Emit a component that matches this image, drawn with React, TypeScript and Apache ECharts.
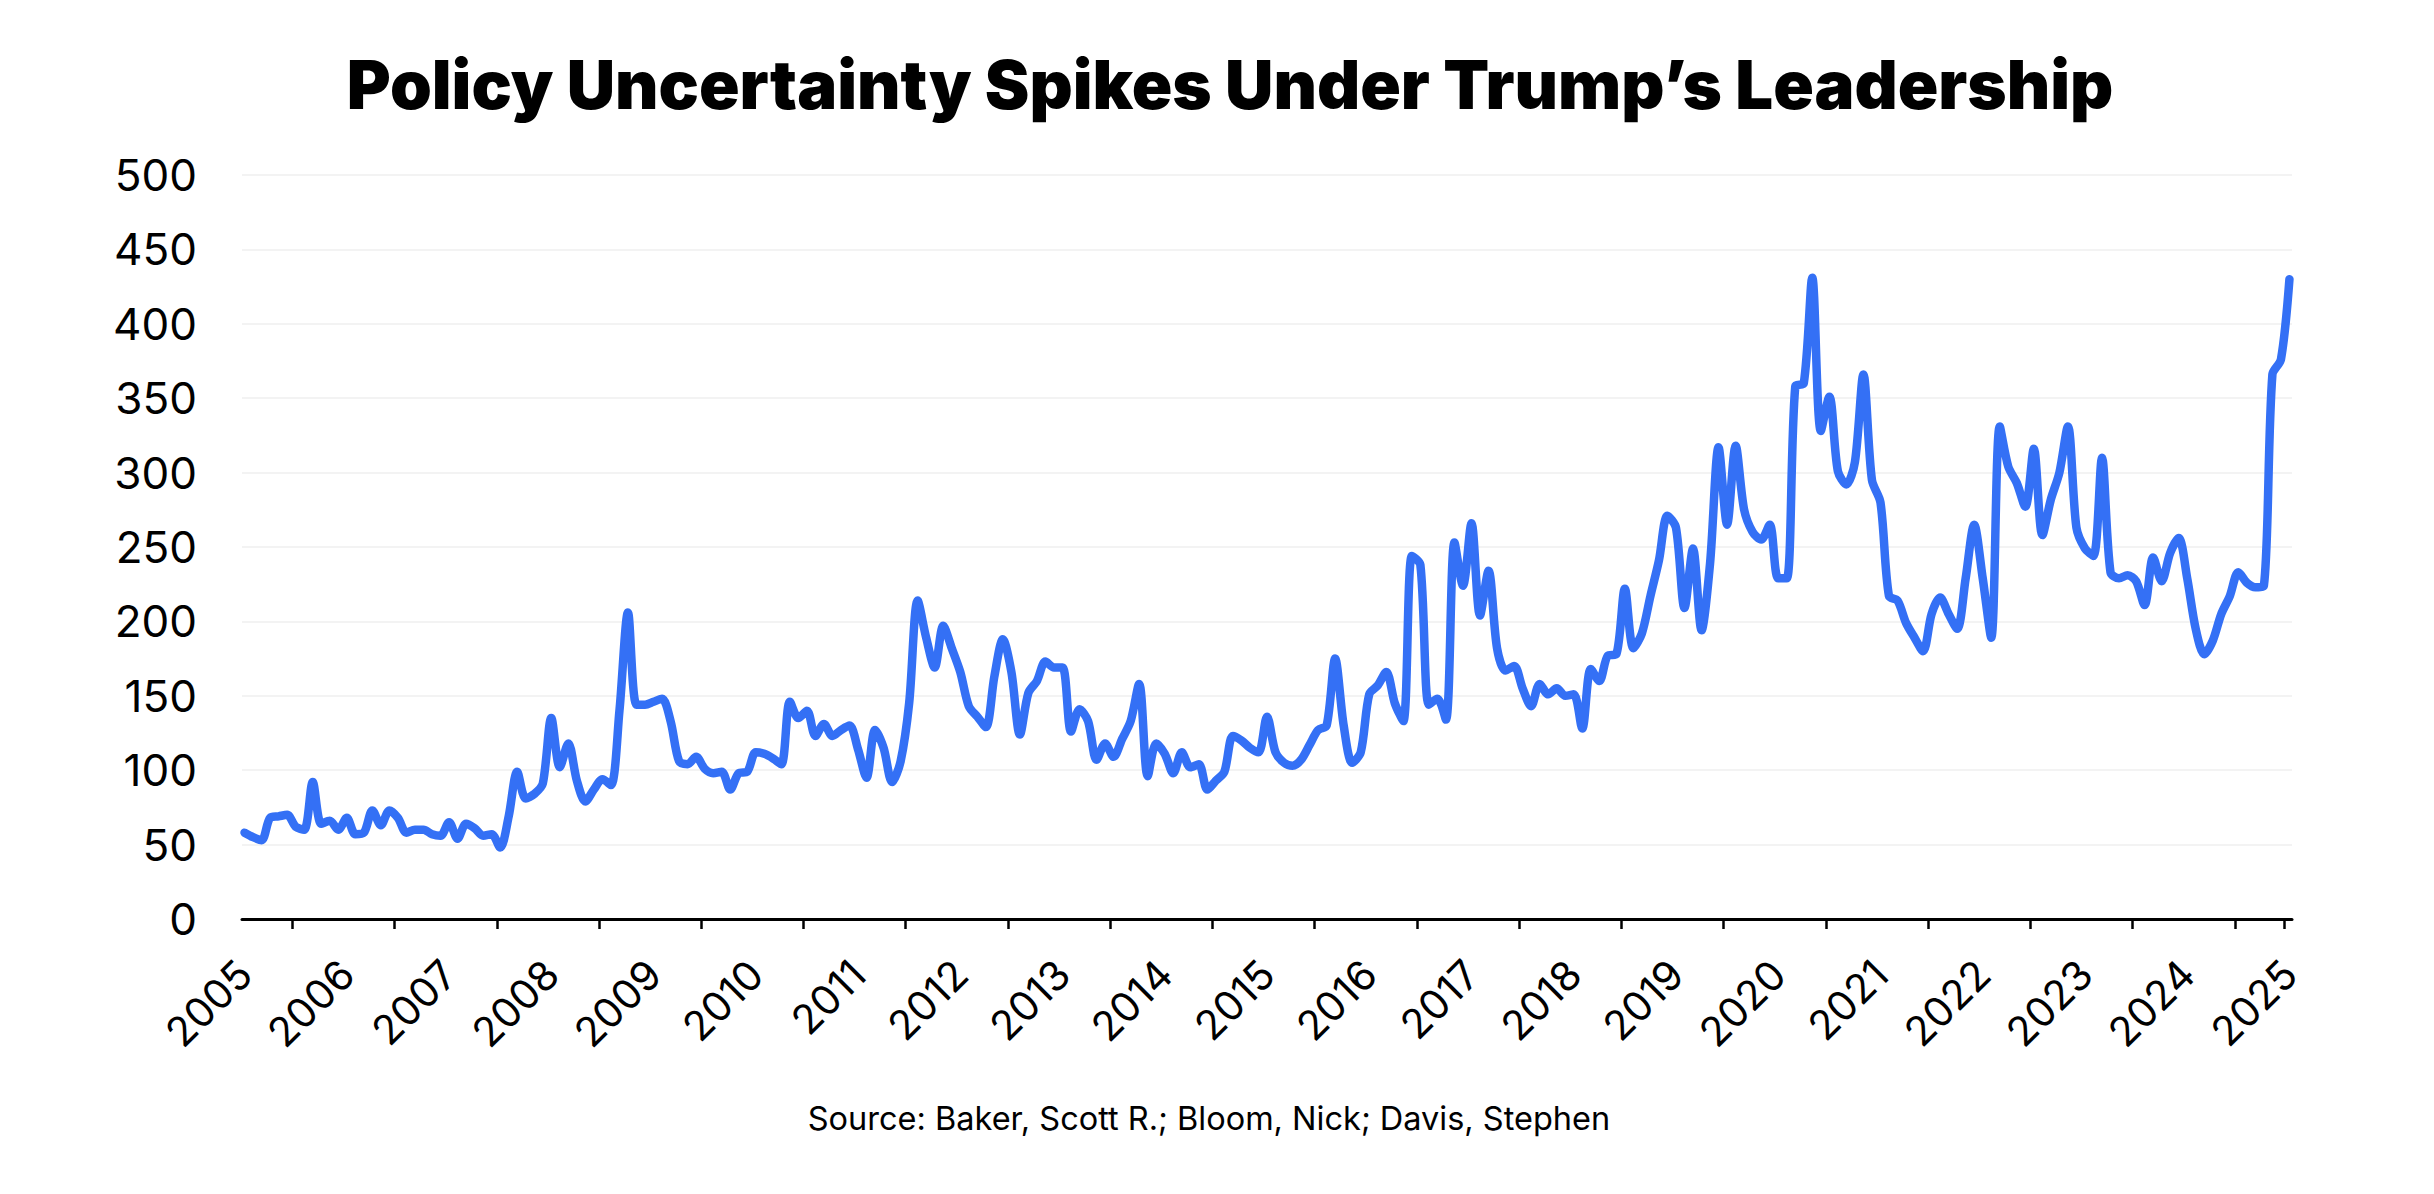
import React, { useEffect, useRef } from "react";
import * as echarts from "echarts";

// Monthly index values (Jan of each year first)
const y2005 = [58, 55, 53, 68, 69, 70, 62, 60, 92, 64, 66, 60];
const y2006 = [68, 57, 58, 73, 63, 73, 68, 58, 60, 60, 57, 56];
const y2007 = [65, 54, 64, 61, 56, 57, 48, 69, 99, 81, 84, 91];
const y2008 = [135, 102, 118, 93, 79, 87, 94, 90, 140, 206, 144, 144];
const y2009 = [146, 148, 133, 106, 104, 109, 101, 98, 99, 87, 98, 99];
const y2010 = [112, 111, 108, 104, 146, 135, 140, 123, 131, 123, 127, 130];
const y2011 = [114, 95, 127, 115, 92, 106, 145, 214, 189, 169, 197, 182];
const y2012 = [166, 143, 136, 129, 163, 188, 166, 124, 152, 160, 173, 169];
const y2013 = [169, 126, 141, 133, 107, 118, 109, 121, 133, 158, 96, 118];
const y2014 = [111, 98, 112, 102, 104, 87, 93, 99, 123, 120, 115, 112];
const y2015 = [136, 112, 105, 103, 107, 117, 127, 130, 175, 130, 105, 112];
const y2016 = [151, 157, 166, 145, 133, 244, 238, 144, 148, 134, 253, 224];
const y2017 = [266, 204, 234, 182, 167, 170, 155, 143, 158, 151, 155, 150];
const y2018 = [151, 128, 168, 160, 177, 178, 222, 182, 192, 217, 241, 271];
const y2019 = [263, 209, 249, 194, 239, 317, 265, 318, 275, 260, 255, 265];
const y2020 = [229, 229, 358, 360, 431, 328, 351, 301, 292, 307, 366, 295];
const y2021 = [280, 217, 214, 199, 189, 180, 205, 216, 205, 195, 229, 265];
const y2022 = [229, 189, 331, 304, 293, 277, 316, 258, 282, 300, 331, 263];
const y2023 = [249, 244, 310, 233, 229, 231, 227, 211, 243, 227, 246, 256];
const y2024 = [229, 195, 178, 187, 205, 217, 233, 226, 223, 224, 366, 376];
const y2025 = [430];

const yearLabels = [
  "2005", "2006", "2007", "2008", "2009", "2010", "2011", "2012", "2013", "2014",
  "2015", "2016", "2017", "2018", "2019", "2020", "2021", "2022", "2023", "2024", "2025",
];
const yTickLabels = ["0", "50", "100", "150", "200", "250", "300", "350", "400", "450", "500"];

const titleText = "Policy Uncertainty Spikes Under Trump\u2019s Leadership";
const sourceText = "Source: Baker, Scott R.; Bloom, Nick; Davis, Stephen";

const values = [
  ...y2005, ...y2006, ...y2007, ...y2008, ...y2009, ...y2010, ...y2011,
  ...y2012, ...y2013, ...y2014, ...y2015, ...y2016, ...y2017, ...y2018,
  ...y2019, ...y2020, ...y2021, ...y2022, ...y2023, ...y2024, ...y2025,
];

export default function App() {
  const ref = useRef<HTMLDivElement>(null);

  useEffect(() => {
    if (!ref.current) return;
    const chart = echarts.init(ref.current, undefined, { renderer: "svg" });

    const labelPositions = yearLabels.map((_, i) => i * 12);
    const tickPositions: number[] = [];
    for (let k = 0; k < yearLabels.length - 1; k++) tickPositions.push(5.6 + k * 12);
    tickPositions.push(239.4);

    chart.setOption({
      animation: false,
      backgroundColor: "#ffffff",
      grid: { left: 242, right: 142, top: 175, bottom: 275, containLabel: false },
      xAxis: {
        type: "value",
        min: -0.3,
        max: 240.3,
        splitLine: { show: false },
        axisLine: { show: true, lineStyle: { color: "#000", width: 3 } },
        axisTick: {
          show: true,
          length: 10,
          inside: false,
          customValues: tickPositions,
          lineStyle: { color: "#000", width: 2.5 },
        },
        axisLabel: {
          show: true,
          customValues: labelPositions,
          rotate: 45,
          margin: 48,
          fontSize: 41,
          fontFamily: "Inter",
          color: "#000",
          formatter: (v: number) => yearLabels[Math.round(v / 12)] ?? "",
        },
      },
      yAxis: {
        type: "value",
        min: 0,
        max: 500,
        interval: 50,
        axisLine: { show: false },
        axisTick: { show: false },
        splitLine: { show: true, lineStyle: { color: "#efefef", width: 1.5 } },
        axisLabel: {
          margin: 45,
          fontSize: 44,
          fontFamily: "Inter",
          color: "#000",
          formatter: (v: number) => yTickLabels[Math.round(v / 50)] ?? String(v),
        },
      },
      series: [
        {
          type: "line",
          data: values.map((v, i) => [i, v]),
          showSymbol: false,
          smooth: 0.3,
          lineStyle: { color: "#3470F5", width: 8.5, cap: "round", join: "round" },
          z: 3,
        },
      ],
      graphic: [
        {
          type: "text",
          x: 1230,
          y: 84,
          style: {
            text: titleText,
            fontSize: 67,
            fontWeight: 900,
            fontFamily: "Inter",
            fill: "#000",
            textAlign: "center",
            textVerticalAlign: "middle",
          },
        },
        {
          type: "text",
          x: 1209,
          y: 1118,
          style: {
            text: sourceText,
            fontSize: 32.5,
            fontFamily: "Inter",
            fill: "#000",
            textAlign: "center",
            textVerticalAlign: "middle",
          },
        },
      ],
    });

    return () => chart.dispose();
  }, []);

  return (
    <div
      ref={ref}
      style={{ position: "fixed", left: 0, top: 0, width: 2434, height: 1194, background: "#fff" }}
    />
  );
}
